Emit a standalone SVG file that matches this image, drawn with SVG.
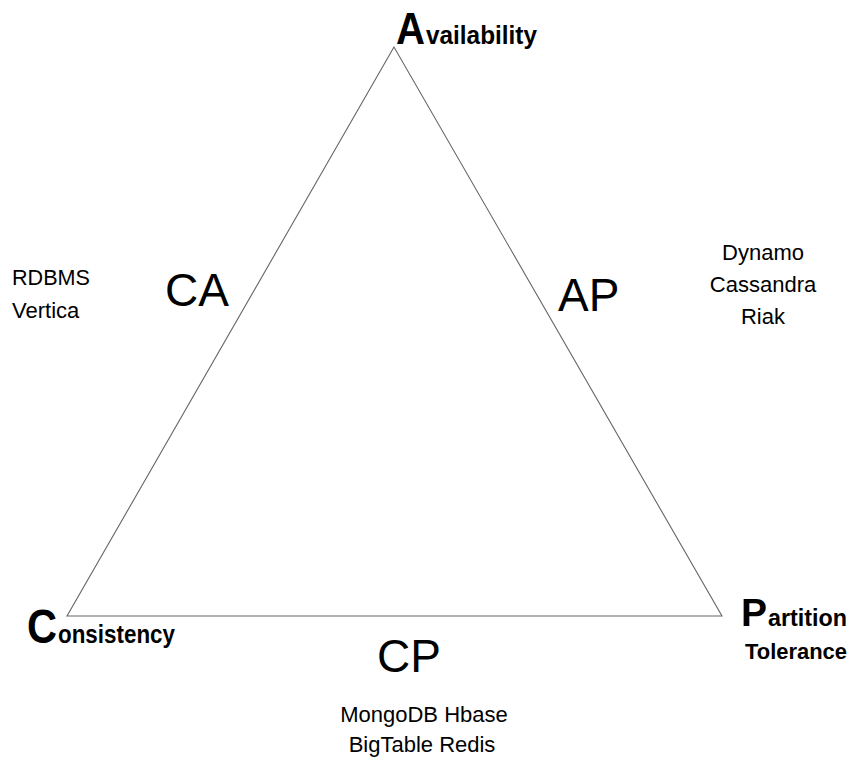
<svg xmlns="http://www.w3.org/2000/svg" width="857" height="758" viewBox="0 0 857 758">
<style>
text{font-family:"Liberation Sans",Arial,sans-serif;fill:#000}
.big{font-weight:bold}
.sub{font-weight:bold;font-size:25px}
.pair{font-size:46px}
.db{font-size:22px}
.edge{fill:none;stroke:#666;stroke-width:1.1}
</style>
<rect width="857" height="758" fill="#fff"/>
<g id="connectors">
<path class="edge" d="M394,47 L67,616 L722,616 Z"/>
</g>
<g id="availability">
<text x="396" y="44" class="big" font-size="45" textLength="29" lengthAdjust="spacingAndGlyphs">A</text>
<text x="426" y="44" class="sub" textLength="111" lengthAdjust="spacingAndGlyphs">vailability</text>
</g>
<g id="consistency">
<text x="27" y="643" class="big" font-size="49" textLength="30" lengthAdjust="spacingAndGlyphs">C</text>
<text x="58" y="643" class="sub" textLength="117" lengthAdjust="spacingAndGlyphs">onsistency</text>
</g>
<g id="partition">
<text x="741" y="626" class="big" font-size="39" textLength="26" lengthAdjust="spacingAndGlyphs">P</text>
<text x="768" y="626" class="sub" font-size="24" style="font-size:24px" textLength="79" lengthAdjust="spacingAndGlyphs">artition</text>
<text x="745" y="659" class="sub" style="font-size:22px" textLength="102" lengthAdjust="spacingAndGlyphs">Tolerance</text>
</g>
<g id="ca">
<text x="165" y="306" class="pair">CA</text>
</g>
<g id="ap">
<text x="558" y="311" class="pair">AP</text>
</g>
<g id="cp">
<text x="377" y="672" class="pair">CP</text>
</g>
<g id="ca-db">
<text x="12" y="285" class="db" textLength="78" lengthAdjust="spacingAndGlyphs">RDBMS</text>
<text x="12" y="318" class="db">Vertica</text>
</g>
<g id="ap-db" text-anchor="middle">
<text x="763" y="260" class="db">Dynamo</text>
<text x="763" y="292" class="db">Cassandra</text>
<text x="763" y="324" class="db">Riak</text>
</g>
<g id="cp-db" text-anchor="middle">
<text x="424" y="722" class="db">MongoDB Hbase</text>
<text x="422" y="752" class="db">BigTable Redis</text>
</g>
</svg>
